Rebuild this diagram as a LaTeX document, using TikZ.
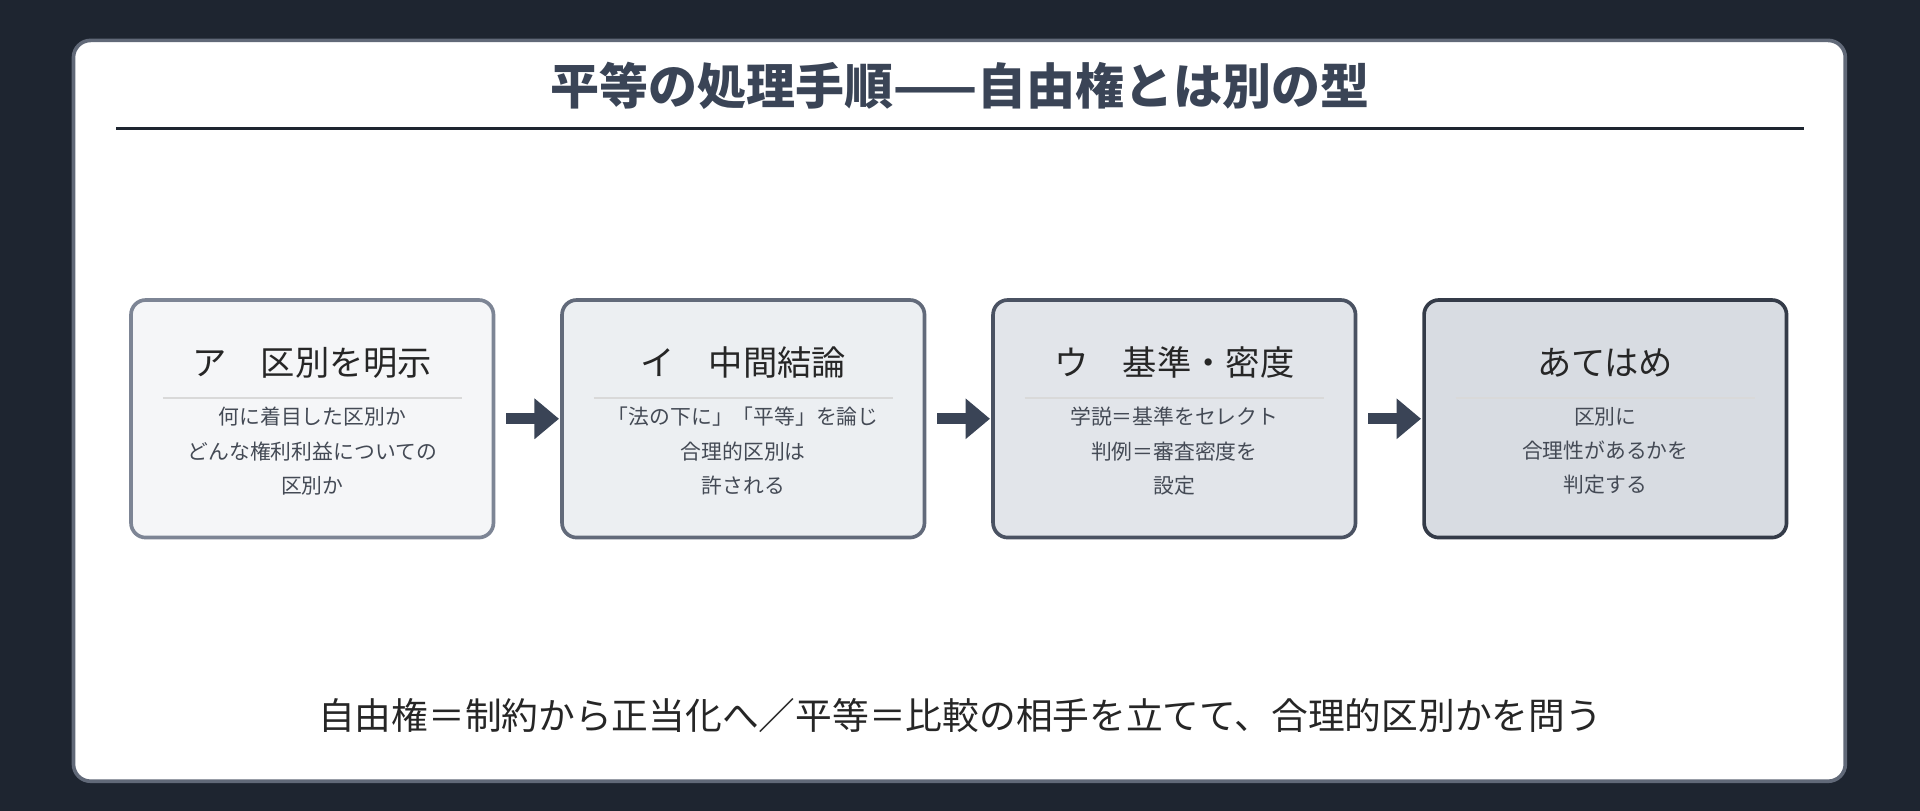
\documentclass[tikz,border=0pt]{standalone}
\usepackage{fontspec}
\setmainfont{Noto Sans CJK JP}
\usetikzlibrary{arrows.meta}
\definecolor{bg}{HTML}{1E2530}
\definecolor{ink}{HTML}{3A4456}
\definecolor{txt}{HTML}{444A55}
\tikzset{
 box/.style={draw=#1,line width=3pt,rounded corners=12pt,minimum width=296pt,minimum height=194pt},
 head/.style={font=\fontsize{28}{32}\selectfont,text=black!85},
 body/.style={font=\fontsize{17}{28}\selectfont,text=txt,align=center},
 arr/.style={-{Triangle[length=20pt,width=32pt]},line width=9pt,draw=ink}
}
\begin{document}
\begin{tikzpicture}[x=1pt,y=-1pt]
\fill[bg] (0,0) rectangle (1568,662);
\useasboundingbox (0,0) rectangle (1568,662);
\draw[fill=white,draw=ink!80,line width=3pt,rounded corners=14pt] (60,33) rectangle (1507,638);
\node[font=\fontsize{40}{44}\selectfont\bfseries,text=ink] (title) at (784,70) {平等の処理手順——自由権とは別の型};
\draw[line width=2pt,draw=bg] (95,105) -- (1473,105);
\foreach \i/\x/\f/\d/\h/\t in {
 a/255/F5F6F8/7D8595/ア\quad 区別を明示/{何に着目した区別か\\どんな権利利益についての\\区別か},
 b/607/ECEFF2/626A7A/イ\quad 中間結論/{「法の下に」「平等」を論じ\\合理的区別は\\許される},
 c/959/E2E5EA/4A5262/ウ\quad 基準・密度/{学説＝基準をセレクト\\判例＝審査密度を\\設定},
 d/1311/D8DCE2/343B48/あてはめ/{区別に\\合理性があるかを\\判定する}}{
 \definecolor{f\i}{HTML}{\f}\definecolor{d\i}{HTML}{\d}
 \node[box=d\i,fill=f\i] (\i) at (\x,342) {};
 \node[head] (h\i) at (\x,296) {\h};
 \draw[line width=1.5pt,draw=black!15] (\x-122,325) -- (\x+122,325);
 \node[body,anchor=north] (t\i) at (\x,329) {\t};
}
\draw[arr] ([xshift=9pt]a.east) -- ([xshift=-1pt]b.west);
\draw[arr] ([xshift=9pt]b.east) -- ([xshift=-1pt]c.west);
\draw[arr] ([xshift=9pt]c.east) -- ([xshift=-1pt]d.west);
\node[font=\fontsize{30}{34}\selectfont,text=black!85] (foot) at (784,584) {自由権＝制約から正当化へ／平等＝比較の相手を立てて、合理的区別かを問う};
\end{tikzpicture}
\end{document}
